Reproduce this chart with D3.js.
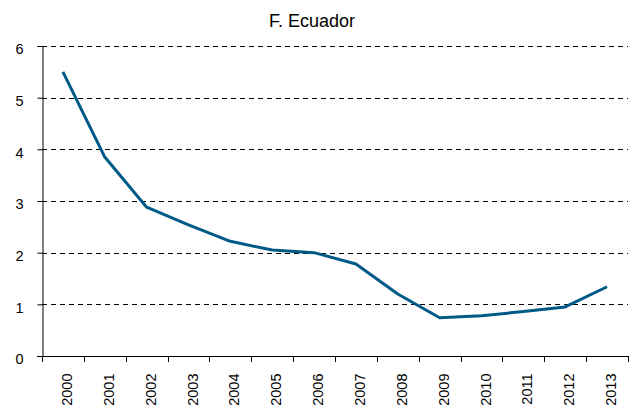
<!DOCTYPE html>
<html><head><meta charset="utf-8">
<script src="https://cdn.jsdelivr.net/npm/d3@7"></script>
<style>body{margin:0;background:#fff;} text{font-family:"Liberation Sans",Arial,sans-serif;}</style>
</head><body>
<svg id="c" width="631" height="411"></svg>
<script>
const years = ["2000","2001","2002","2003","2004","2005","2006","2007","2008","2009","2010","2011","2012","2013"];
const values = [5.50,3.85,2.88,2.54,2.22,2.05,2.00,1.78,1.20,0.74,0.78,0.86,0.95,1.34];
const yTicks = [0,1,2,3,4,5,6];
const title = "F. Ecuador";

const svg = d3.select("#c");
const m = {l:42, r:3, t:46, b:55};
const W = 631, H = 411;
const x = d3.scaleBand().domain(years).range([m.l, W - m.r]).padding(0);
const y = d3.scaleLinear().domain([0,6]).range([H - m.b, m.t]);

// gridlines
svg.append("g").selectAll("line").data(yTicks.filter(d=>d>0)).join("line")
  .attr("x1", m.l).attr("x2", W - m.r)
  .attr("y1", d=>Math.round(y(d))+0.5).attr("y2", d=>Math.round(y(d))+0.5)
  .attr("stroke","#000").attr("stroke-width",1).attr("stroke-dasharray","5,4");

// y axis
const ya = svg.append("g").attr("transform",`translate(${m.l+0.5},0)`)
  .call(d3.axisLeft(y).tickValues(yTicks).tickFormat(d3.format("d")).tickSize(5).tickPadding(14));
ya.select(".domain").attr("stroke","#000");
ya.selectAll("text").attr("font-size",14.5).attr("fill","#000").attr("dy","0.55em");

// x axis
const xa = svg.append("g").attr("transform",`translate(0,${Math.round(y(0))+0.5})`)
  .call(d3.axisBottom(x).tickSize(0).tickFormat(d=>d));
xa.select(".domain").attr("d",`M${m.l-5},0H${W-m.r}`).attr("stroke","#000");
xa.selectAll("text").attr("font-size",14.5).attr("fill","#000")
  .attr("transform","rotate(-90)").attr("text-anchor","end")
  .attr("x",-17).attr("y",0).attr("dy","0.62em");
// boundary ticks
svg.append("g").selectAll("line").data(years.concat(["end"])).join("line")
  .attr("x1",(d,i)=>Math.round(m.l + i*x.bandwidth())+0.5)
  .attr("x2",(d,i)=>Math.round(m.l + i*x.bandwidth())+0.5)
  .attr("y1", Math.round(y(0))).attr("y2", Math.round(y(0))+6)
  .attr("stroke","#000");

// line
const line = d3.line().x((d,i)=>x(years[i]) + x.bandwidth()/2).y(d=>y(d));
svg.append("path").datum(values).attr("d",line)
  .attr("fill","none").attr("stroke","#005a87").attr("stroke-width",3).attr("stroke-linejoin","round");

svg.append("text").attr("x",312).attr("y",27).attr("text-anchor","middle")
  .attr("font-size",18).attr("fill","#000").text(title);
</script>
</body></html>
